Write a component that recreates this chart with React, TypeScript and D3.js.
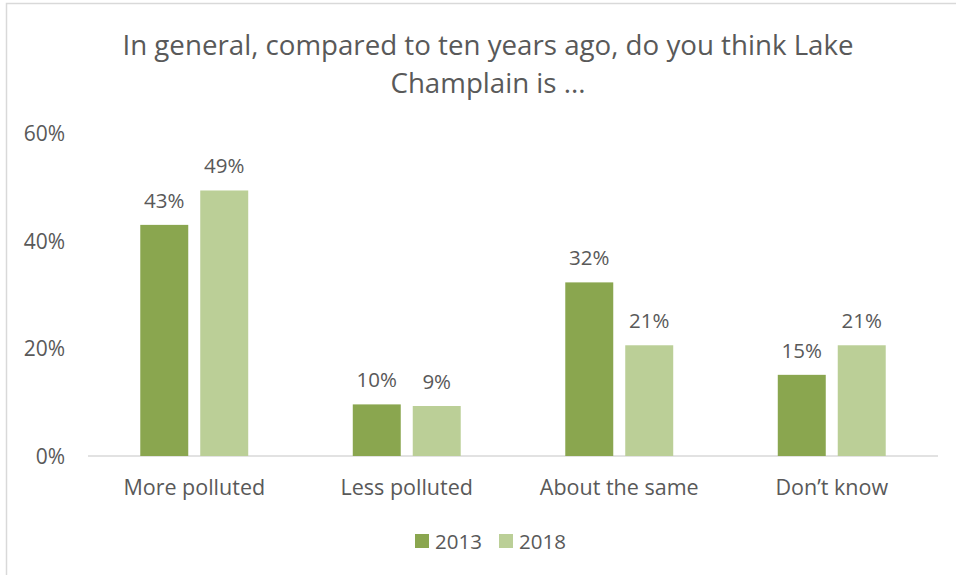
import React from "react";
import * as d3 from "d3";

const categories = ["More polluted", "Less polluted", "About the same", "Don\u2019t know"];
const seriesNames = ["2013", "2018"];
const values2013 = [0.43, 0.096, 0.323, 0.151];
const values2018 = [0.494, 0.093, 0.206, 0.206];
const labels2013 = ["43%", "10%", "32%", "15%"];
const labels2018 = ["49%", "9%", "21%", "21%"];
const yTicks = [0, 0.2, 0.4, 0.6];
const titleLines = ["In general, compared to ten years ago, do you think Lake", "Champlain is ..."];

const colors = ["#8aa64f", "#bbcf97"];
const textColor = "#595959";
const FONT = "'Open Sans', sans-serif";

export default function App() {
  const W = 956, H = 575;
  const x0 = d3.scaleBand<string>().domain(categories).range([88, 938]).paddingInner(0.492).paddingOuter(0.246);
  const x1 = d3.scaleBand<string>().domain(seriesNames).range([0, x0.bandwidth()]).paddingInner(0.2);
  const y = d3.scaleLinear().domain([0, 0.6]).range([456, 133.5]);
  const series = [values2013, values2018];
  const labels = [labels2013, labels2018];
  const fmt = d3.format(".0%");

  return (
    <svg width={W} height={H} style={{ position: "absolute", left: 0, top: 0 }} fontFamily={FONT}>
      <rect x={0} y={0} width={W} height={H} fill="#fff" />
      <rect x={6.5} y={3.5} width={1000} height={1000} fill="none" stroke="#d9d9d9" strokeWidth={1.5} />
      {titleLines.map((t, i) => (
        <text key={i} x={488} y={55 + i * 38} textAnchor="middle" fontSize={27.7} fill={textColor}>{t}</text>
      ))}
      {yTicks.map((t) => (
        <text key={t} x={65} y={y(t) + 7.5} textAnchor="end" fontSize={21} fill={textColor}>{fmt(t)}</text>
      ))}
      <line x1={88} x2={938} y1={y(0)} y2={y(0)} stroke="#d9d9d9" strokeWidth={1.5} />
      {categories.map((c, ci) => (
        <g key={c}>
          {seriesNames.map((s, si) => {
            const bx = (x0(c) ?? 0) + (x1(s) ?? 0);
            const v = series[si][ci];
            return (
              <g key={s}>
                <rect x={bx} y={y(v)} width={x1.bandwidth()} height={y(0) - y(v)} fill={colors[si]} />
                <text x={bx + x1.bandwidth() / 2} y={y(v) - 17} textAnchor="middle" fontSize={20.5} fill={textColor}>{labels[si][ci]}</text>
              </g>
            );
          })}
          <text x={(x0(c) ?? 0) + x0.bandwidth() / 2} y={495} textAnchor="middle" fontSize={21.5} fill={textColor}>{c}</text>
        </g>
      ))}
      {seriesNames.map((s, si) => (
        <g key={s} transform={`translate(${415 + si * 84},534)`}>
          <rect x={0} y={0} width={14} height={14} fill={colors[si]} />
          <text x={20} y={14.5} fontSize={20.5} fill={textColor}>{s}</text>
        </g>
      ))}
    </svg>
  );
}
